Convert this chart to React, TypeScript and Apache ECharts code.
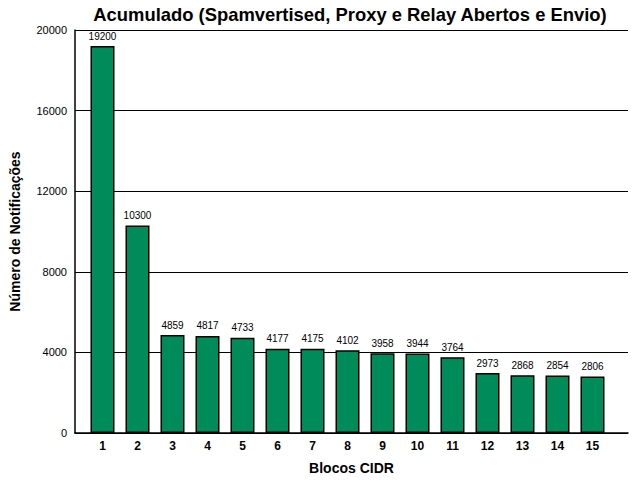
import React, { useEffect, useRef } from "react";
import * as echarts from "echarts";

const categories = ["1", "2", "3", "4", "5", "6", "7", "8", "9", "10", "11", "12", "13", "14", "15"];
const values = [19200, 10300, 4859, 4817, 4733, 4177, 4175, 4102, 3958, 3944, 3764, 2973, 2868, 2854, 2806];
const yMin = 0;
const yMax = 20000;
const yStep = 4000;

const font = "Liberation Sans, Arial";

export default function App() {
  const ref = useRef<HTMLDivElement>(null);
  useEffect(() => {
    const chart = echarts.init(ref.current!, null, { renderer: "svg" });
    chart.setOption({
      animation: false,
      backgroundColor: "#ffffff",
      title: {
        text: "Acumulado (Spamvertised, Proxy e Relay Abertos e Envio)",
        left: 345,
        textAlign: "center",
        top: 0,
        textStyle: { fontFamily: font, fontSize: 18.4, fontWeight: "bold", color: "#000" },
      },
      grid: [
        { left: 67, right: 12, top: 30, bottom: 47 },
        { left: 85, right: 30, top: 30, bottom: 47 },
      ],
      xAxis: [
        {
          gridIndex: 0,
          type: "value",
          min: 0,
          max: 1,
          name: "Blocos CIDR",
          nameLocation: "middle",
          nameGap: 28,
          nameTextStyle: { fontFamily: font, fontSize: 14, fontWeight: "bold", color: "#000" },
          axisLine: { show: true, lineStyle: { color: "#000", width: 1.5 } },
          axisTick: { show: false },
          axisLabel: { show: false },
          splitLine: { show: false },
        },
        {
          gridIndex: 1,
          type: "category",
          data: categories,
          axisLine: { show: false },
          axisTick: { show: false },
          axisLabel: { fontFamily: font, fontSize: 12, fontWeight: "bold", color: "#000", margin: 7 },
        },
      ],
      yAxis: [
        {
          gridIndex: 0,
          type: "value",
          min: yMin,
          max: yMax,
          interval: yStep,
          name: "Número de Notificações",
          nameLocation: "middle",
          nameGap: 53,
          nameTextStyle: { fontFamily: font, fontSize: 14, fontWeight: "bold", color: "#000" },
          axisLine: { show: true, lineStyle: { color: "#000", width: 1.5 } },
          axisTick: { show: false },
          axisLabel: { fontFamily: font, fontSize: 11, color: "#000", margin: 8, formatter: (v: number) => String(v) },
          splitLine: { show: true, lineStyle: { color: "#000", width: 1 } },
        },
        {
          gridIndex: 1,
          type: "value",
          min: yMin,
          max: yMax,
          interval: yStep,
          show: false,
          splitLine: { show: false },
        },
      ],
      series: [
        {
          type: "bar",
          xAxisIndex: 1,
          yAxisIndex: 1,
          data: values,
          barWidth: 24,
          itemStyle: { color: "#008C5A", borderColor: "#000", borderWidth: 1.5 },
          label: {
            show: true,
            position: "top",
            distance: 5,
            fontFamily: font,
            fontSize: 10,
            color: "#000",
          },
        },
      ],
    });
    return () => chart.dispose();
  }, []);
  return <div ref={ref} style={{ width: 640, height: 480, position: "absolute", left: 0, top: 0 }} />;
}
